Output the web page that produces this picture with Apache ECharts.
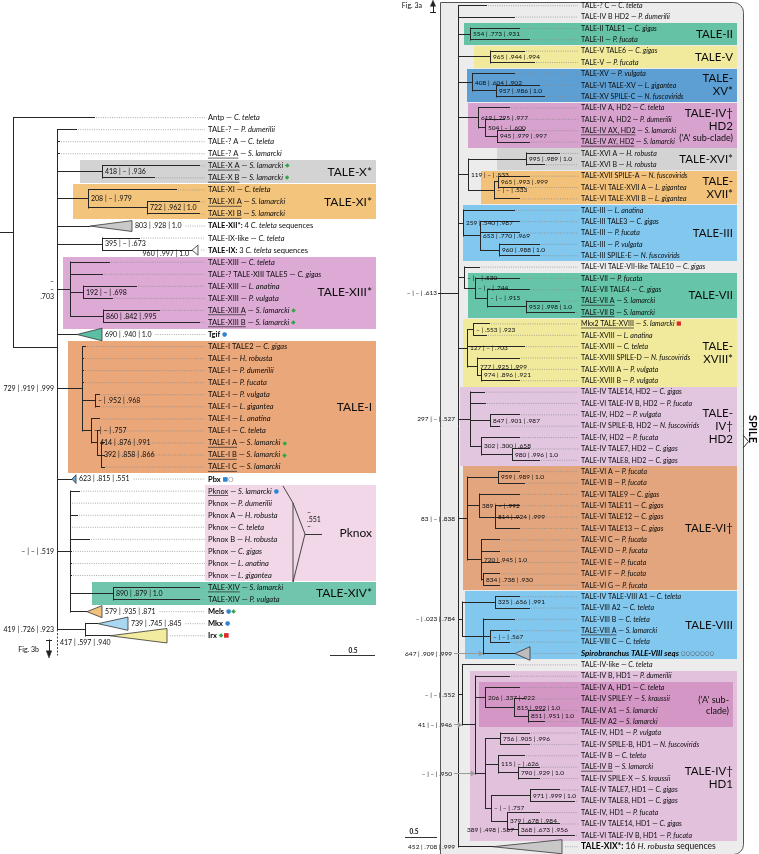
<!DOCTYPE html>
<html>
<head>
<meta charset="utf-8">
<script src="https://cdn.jsdelivr.net/npm/echarts@6/dist/echarts.min.js"></script>
<style>
html,body{margin:0;padding:0;background:#fff;}
#chart{width:759px;height:854px;}
</style>
</head>
<body>
<div id="chart"></div>
<script>
// ================= LEFT PANEL DATA =================
const leftGenes = ['Antp','TALE-?','TALE-? A','TALE-? A','TALE-X A','TALE-X B','TALE-XI','TALE-XI A','TALE-XI B',
  '{b|TALE-XII*:} 4 {i|C. teleta} sequences','TALE-IX-like','{b|TALE-IX:} 3 {i|C. teleta} sequences',
  'TALE-XIII','TALE-? TALE-XIII TALE5','TALE-XIII','TALE-XIII','TALE-XIII A','TALE-XIII B','{b|Tgif}',
  'TALE-I TALE2','TALE-I','TALE-I','TALE-I','TALE-I','TALE-I','TALE-I','TALE-I','TALE-I A','TALE-I B','TALE-I C','{b|Pbx}',
  'Pknox','Pknox','Pknox A','Pknox','Pknox B','Pknox','Pknox','Pknox','TALE-XIV','TALE-XIV','{b|Mels}','{b|Mkx}','{b|Irx}'];
const leftSpecies = ['C. teleta','P. dumerilii','C. teleta','S. lamarcki','S. lamarcki','S. lamarcki','C. teleta','S. lamarcki','S. lamarcki',
  '','C. teleta','','C. teleta','C. gigas','L. anatina','P. vulgata','S. lamarcki','S. lamarcki','',
  'C. gigas','H. robusta','P. dumerilii','P. fucata','P. vulgata','L. gigantea','L. anatina','C. teleta','S. lamarcki','S. lamarcki','S. lamarcki','',
  'S. lamarcki','P. dumerilii','H. robusta','C. teleta','H. robusta','C. gigas','L. anatina','L. gigantea','S. lamarcki','P. vulgata','','',''];
const leftMarks = [[5,'g'],[6,'g'],[17,'g'],[18,'g'],[19,'b'],[28,'g'],[29,'g'],[31,'so'],[32,'b'],[42,'bg'],[43,'b'],[44,'gr']];
const leftUnderlined = [4,5,6,8,9,17,18,28,29,30,32,40];
// depth where the solid branch of each leaf ends (null = collapsed triangle)
const leftTips = [95,77,60,60,200,155,177,200,200,null,140,null,110,103,137,113,160,200,null,
  86,84,84,84,100,100,100,100,105,105,105,null,80,71,78,71,90,72,72,72,200,200,null,null,null];
// [id, depth, children (leaf rows or node ids), support, label mode, fixed row]
const leftNodes = [
  ['root', 13, [1,'B']],
  ['B', 57, [2,3,4,'X','XI',10,'IX','XIII',19,'I',31,'PK','MI'], '', 'node', 20.04],
  ['X', 102, [5,6], '418 | – | .936'],
  ['XI', 88, [7,'XIab'], '208 | – | .979'],
  ['XIab', 147, [8,9], '722 | .962 | 1.0'],
  ['IX', 102, [11,12], '395 | – | .673'],
  ['XIII', 70, [13,14,'XIIIb','XIIIc'], '–\n–\n.703', 'left'],
  ['XIIIb', 83, [15,16], '192 | – | .698'],
  ['XIIIc', 103, [17,18], '860 | .842 | .995'],
  ['I', 82, [20,21,22,23,'Ia','Ib'], '729 | .919 | .999', 'left'],
  ['Ia', 95, [24,25], '– | .952 | .968'],
  ['Ib', 91, [26,'Ic'], '– | – | .757'],
  ['Ic', 97, [27,'Id'], '414 | .876 | .991'],
  ['Id', 101, [28,29,30], '392 | .858 | .866'],
  ['PK', 70, [32,33,34,35,36,37,38,39,'XIV',42], '– | – | .519', 'left'],
  ['XIV', 113, [40,41], '890 | .879 | 1.0'],
  ['MI', 85, [43,44], '419 | .726 | .923', 'left']
];
// [row, tip depth, base depth, half height (rows), fill, support, label mode]
const leftTriangles = [
  [10, 90, 132, 0.45, '#c9c9c9', '803 | .928 | 1.0'],
  [12, 192, 198, 0.42, '#f4f4f4', '960 | .997 | 1.0', 'before'],
  [19, 77, 102, 0.52, '#5cbfa3', '690 | .940 | 1.0'],
  [31, 72, 76, 0.36, '#5aaee0', '623 | .815 | .551'],
  [42, 87, 102, 0.5, '#f3c27a', '579 | .935 | .871'],
  [43, 98, 128, 0.55, '#a9d7f2', '739 | .745 | .845'],
  [44, 110, 167, 0.6, '#f2ec9e', '']
];
// [label, start depth, first row, last row, colour, label row, end depth]
const leftClades = [
  ['TALE-X*', 80, 5, 6, '#d3d3d3'],
  ['TALE-XI*', 73, 7, 9, '#f3c47c'],
  ['TALE-XIII*', 63, 13, 18, '#dcaad5'],
  ['TALE-I', 68, 20, 30, '#eaa77a'],
  ['Pknox', 205, 32, 39, '#f1d7e8'],
  ['TALE-XIV*', 92, 40, 41, '#6fc6ad']
];
const leftNotes = [['417 | .597 | .940', 44.6, 60, 'left']];

// ================= RIGHT PANEL DATA =================
const rightGenes = ['TALE-? C','TALE-IV B HD2','TALE-II TALE1','TALE-II','TALE-V TALE6','TALE-V','TALE-XV','TALE-VI TALE-XV','TALE-XV SPILE-C',
  'TALE-IV A, HD2','TALE-IV A, HD2','TALE-IV AX, HD2','TALE-IV AY, HD2','TALE-XVI A','TALE-XVI B','TALE-XVII SPILE-A','TALE-VI TALE-XVII A','TALE-VI TALE-XVII B',
  'TALE-III','TALE-III TALE3','TALE-III','TALE-III','TALE-III SPILE-E','TALE-VI TALE-VII-like TALE10','TALE-VII','TALE-VII TALE4','TALE-VII A','TALE-VII B',
  'Mkx2 TALE-XVIII','TALE-XVIII','TALE-XVIII','TALE-XVIII SPILE-D','TALE-XVIII A','TALE-XVIII B',
  'TALE-IV TALE14, HD2','TALE-VI TALE-IV B, HD2','TALE-IV, HD2','TALE-IV SPILE-B, HD2','TALE-IV, HD2','TALE-IV TALE7, HD2','TALE-IV TALE8, HD2',
  'TALE-VI A','TALE-VI B','TALE-VI TALE9','TALE-VI TALE11','TALE-VI TALE12','TALE-VI TALE13','TALE-VI C','TALE-VI D','TALE-VI E','TALE-VI F','TALE-VI G',
  'TALE-IV TALE-VIII A1','TALE-VIII A2','TALE-VIII B','TALE-VIII A','TALE-VIII C','{BI|Spirobranchus TALE-VIII seqs}',
  'TALE-IV-like','TALE-IV B, HD1','TALE-IV A, HD1','TALE-IV SPILE-Y','TALE-IV A1','TALE-IV A2','TALE-IV, HD1','TALE-IV SPILE-B, HD1',
  'TALE-IV B','TALE-IV B','TALE-IV SPILE-X','TALE-IV TALE7, HD1','TALE-IV TALE8, HD1','TALE-IV, HD1','TALE-IV TALE14, HD1','TALE-VI TALE-IV B, HD1',
  '{B|TALE-XIX*:}{L| 16 }{LI|H. robusta}{L| sequences}'];
const rightSpecies = ['C. teleta','P. dumerilii','C. gigas','P. fucata','C. gigas','P. fucata','P. vulgata','L. gigantea','N. fuscovirids',
  'C. teleta','P. dumerilii','S. lamarcki','S. lamarcki','H. robusta','H. robusta','N. fuscovirids','L. gigantea','L. gigantea',
  'L. anatina','C. gigas','P. fucata','P. vulgata','N. fuscovirids','C. gigas','P. fucata','C. gigas','S. lamarcki','S. lamarcki',
  'S. lamarcki','L. anatina','C. teleta','N. fuscovirids','P. vulgata','P. vulgata',
  'C. gigas','P. fucata','P. vulgata','N. fuscovirids','P. fucata','C. gigas','C. gigas',
  'P. fucata','P. fucata','C. gigas','C. gigas','C. gigas','C. gigas','P. fucata','P. fucata','P. fucata','P. fucata','P. fucata',
  'C. teleta','C. teleta','C. teleta','S. lamarcki','C. teleta','',
  'C. teleta','P. dumerilii','C. teleta','S. kraussii','S. lamarcki','S. lamarcki','P. vulgata','N. fuscovirids',
  'C. teleta','S. lamarcki','S. kraussii','C. gigas','C. gigas','P. fucata','C. gigas','P. fucata',''];
const rightMarks = [[29,'r'],[58,'ooooooo']];
const rightUnderlined = [12,13,27,28,29,56,68];
const rightTips = [487,515,520,530,525,535,515,540,545,510,505,525,530,560,545,530,525,520,515,520,520,540,540,480,520,530,560,575,
  490,487,525,520,520,520,485,486,520,500,520,530,540,520,525,520,520,520,520,500,500,500,500,500,520,530,515,510,510,null,
  515,510,520,525,545,545,530,530,525,540,540,560,575,540,560,575,null];
const rightNodes = [
  ['S0', 458, [1,2,'II','V','XV','P','S','III','X','CC','FF','JJ','PP','H1',75]],
  ['II', 470, [3,4], '554 | .773 | .931'],
  ['V', 490, [5,6], '965 | .944 | .994'],
  ['XV', 472, [7,'XVb'], '408 | .604 | .902'],
  ['XVb', 496, [8,9], '957 | .986 | 1.0'],
  ['P', 478, [10,'Q'], '619 | .795 | .977'],
  ['Q', 485, [11,'R'], '504 | – | .600'],
  ['R', 497, [12,13], '945 | .979 | .997'],
  ['S', 468, ['XVI','T'], '119 | – | .533'],
  ['XVI', 526, [14,15], '995 | .989 | 1.0'],
  ['T', 494, ['U',18], '– | – | .533'],
  ['U', 498, [16,17], '965 | .993 | .999'],
  ['III', 463, [19,'V3'], '259 | .540 | .987'],
  ['V3', 480, [20,21,'W'], '653 | .770 | .969'],
  ['W', 499, [22,23], '960 | .988 | 1.0'],
  ['X', 464, [24,'Y'], '– | – | .530'],
  ['Y', 475, [25,'Z'], '– | – | .744'],
  ['Z', 487, [26,'AA'], '– | – | .915'],
  ['AA', 526, [27,28], '952 | .998 | 1.0'],
  ['CC', 467, ['BB',31,'DD'], '127 | – | .703'],
  ['BB', 473, [29,30], '– | .553 | .923'],
  ['DD', 477, [32,'EE'], '777 | .925 | .999'],
  ['EE', 481, [33,34], '974 | .896 | .921'],
  ['FF', 470, [35,36,'GG','HH'], '297 | – | .527', 'left'],
  ['GG', 490, [37,38], '847 | .901 | .987'],
  ['HH', 481, [39,'I2'], '302 | .300 | .658'],
  ['I2', 512, [40,41], '980 | .996 | 1.0'],
  ['JJ', 467, ['KK','LL','NN'], '83 | – | .838', 'left'],
  ['KK', 498, [42,43], '959 | .989 | 1.0'],
  ['LL', 479, [44,'MM'], '389 | – | .992'],
  ['MM', 495, [45,46,47], '814 | .924 | .999'],
  ['NN', 481, [48,49,50,'OO'], '720 | .945 | 1.0'],
  ['OO', 483, [51,52], '834 | .738 | .930'],
  ['PP', 462, ['QQ','RR'], '– | .023 | .784', 'left'],
  ['QQ', 495, [53,54], '325 | .656 | .991'],
  ['RR', 483, [55,'SS',58]],
  ['SS', 490, [56,57], '– | – | .567'],
  ['H1', 462, [59,'H1b'], '– | – | .552', 'left'],
  ['H1b', 475, [60,'TT','XX'], '41 | – | .946', 'leftArrow'],
  ['TT', 485, [61,'UU'], '206 | .337 | .922'],
  ['UU', 514, [62,'VV'], '815 | .992 | 1.0'],
  ['VV', 528, [63,64], '851 | .951 | 1.0'],
  ['XX', 485, ['YY','ZZ','AC'], '– | – | .950', 'leftArrow'],
  ['YY', 500, [65,66], '756 | .905 | .996'],
  ['ZZ', 498, [67,'AB'], '115 | – | .626'],
  ['AB', 518, [68,69], '790 | .929 | 1.0'],
  ['AC', 491, ['AD','AE'], '– | – | .757'],
  ['AD', 530, [70,71], '971 | .999 | 1.0'],
  ['AE', 507, [72,'AF'], '379 | .678 | .984'],
  ['AF', 518, [73,74], '368 | .673 | .956']
];
const rightTriangles = [
  [58, 515, 530, 0.6, '#bdbdbd', '647 | .909 | .999', 'leftArrow'],
  [75, 493, 562, 0.62, '#c8c8c8', '452 | .708 | .999', 'left']
];
const rightClades = [
  ['TALE-II', 464, 3, 4, '#66c2a4'],
  ['TALE-V', 474, 5, 6, '#f1ea9c'],
  ['TALE-\nXV*', 467, 7, 9, '#5d9fd3'],
  ["TALE-IV†\nHD2\n{s|('A' sub-clade)}", 468, 10, 13, '#d8a2cf'],
  ['TALE-XVI*', 497, 14, 15, '#d3d3d3'],
  ['TALE-\nXVII*', 481, 16, 18, '#f2c27b'],
  ['TALE-III', 463, 19, 23, '#82c7ee'],
  ['TALE-VII', 468, 25, 28, '#66c5a8'],
  ['TALE-\nXVIII*', 463, 29, 34, '#f1ea9c'],
  ['TALE-\nIV†\nHD2', 460, 35, 41, '#e2c6df'],
  ['TALE-VI†', 463, 42, 52, '#e3a57d'],
  ['TALE-VIII', 465, 53, 58, '#82c7ee'],
  ['TALE-IV†\nHD1', 470, 60, 74, '#e2c1dd', 68.9],
  ["{s|('A' sub-}\n{s|clade)}", 479, 61, 64, '#d497c5', 62.6, 733]
];
const rightNotes = [['– | – | .613', 26.3, 437, 'right', 458], ['389 | .498 | .567', 73.5, 467, 'left']];

// ================= RENDERING =================
const FAM = 'Lato, "Open Sans", "DejaVu Sans", sans-serif';
const INK = '#0d0d0d';
const MARK_GLYPH = { g: '◆', b: '●', r: '■', s: '■', o: '○' };
const mctx = document.createElement('canvas').getContext('2d');
function measure(s, fs) { mctx.font = fs + 'px Lato'; return mctx.measureText(s).width; }
const richCache = {};
function RICH(fs) {
  if (richCache[fs]) return richCache[fs];
  const b = { fontSize: fs, fontFamily: FAM };
  const mk = (col) => ({ fontSize: Math.max(5, fs - 1.5), fontFamily: '"DejaVu Sans", sans-serif', fill: col });
  return richCache[fs] = {
    i: Object.assign({}, b, { fontStyle: 'italic', fill: INK }),
    b: Object.assign({}, b, { fontWeight: 'bold', fill: '#000' }),
    BI: { fontSize: 8, fontFamily: FAM, fontWeight: 'bold', fontStyle: 'italic', fill: '#000' },
    B: { fontSize: 8.5, fontFamily: FAM, fontWeight: 'bold', fill: '#000' },
    L: { fontSize: 8.5, fontFamily: FAM, fill: INK },
    LI: { fontSize: 8.5, fontFamily: FAM, fontStyle: 'italic', fill: INK },
    s: { fontSize: 9, fontFamily: FAM, fill: INK, lineHeight: 11 },
    mg: mk('#33a64a'), mb: mk('#2f86cf'), mr: mk('#e02828'), ms: mk('#2f86cf'), mo: mk('#444')
  };
}

function buildPanel(P) {
  const L = { bg: [], box: [], line: [], text: [] };
  const N = {}, T = {}, parentX = {};
  P.nodes.forEach(n => { N[n[0]] = { id: n[0], x: n[1], ch: n[2], sup: n[3] || '', mode: n[4] || 'node', yo: n[5] }; });
  P.triangles.forEach(t => { T[t[0]] = { row: t[0], tip: t[1], base: t[2], h: t[3], fill: t[4], sup: t[5] || '', mode: t[6] || 'after' }; });
  Object.values(N).forEach(n => n.ch.forEach(c => { parentX[c] = n.x; }));
  const yOf = c => {
    if (typeof c === 'number') return c;
    const n = N[c];
    if (n.y === undefined) {
      const ys = n.ch.map(yOf);
      n.y0 = Math.min.apply(null, ys); n.y1 = Math.max.apply(null, ys);
      n.y = (n.yo != null) ? n.yo : (n.y0 + n.y1) / 2;
    }
    return n.y;
  };
  Object.keys(N).forEach(k => yOf(k));
  const marks = {}; P.marks.forEach(m => { marks[m[0]] = m[1]; });
  const under = new Set(P.underlined);
  const solid = (x1, y1, x2, y2, extra) => L.line.push(Object.assign({ t: 'line', x1, y1, x2, y2 }, extra || {}));
  const dotted = (x1, x2, y) => { if (x2 > x1 + 1) solid(x1, y, x2, y, { color: '#8a8a8a', w: 0.7, dash: [1, 1.3] }); };
  const sup = (text, x, y, align) => L.text.push({ t: 'text', x, y, text, fs: P.supFs, align, lh: P.supFs + 0.5 });
  const arrow = (x1, x2, y) => {
    solid(x1, y, x2 - 3, y, { color: '#9a9a9a', w: 1 });
    L.line.push({ t: 'poly', pts: [[x2, y], [x2 - 4, y - 0.22], [x2 - 4, y + 0.22]], fill: '#9a9a9a', stroke: '#9a9a9a', w: 0.5 });
  };
  const leafLabel = r => {
    let s = P.genes[r - 1];
    if (P.species[r - 1]) s += ' — {i|' + P.species[r - 1] + '}';
    if (marks[r]) s += ' ' + marks[r].split('').map(k => '{m' + k + '|' + MARK_GLYPH[k] + '}').join('');
    L.text.push({ t: 'text', x: P.labelX, y: r, text: s, fs: P.fs, align: 'left' });
    if (under.has(r)) {
      const w = measure(P.genes[r - 1], P.fs);
      solid(P.labelX, r + 0.36, P.labelX + w, r + 0.36, { w: 0.7, color: '#222' });
    }
  };
  const drawTri = (t, px) => {
    solid(px, t.row, t.tip, t.row);
    L.line.push({ t: 'poly', pts: [[t.tip, t.row], [t.base, t.row - t.h], [t.base, t.row + t.h]], fill: t.fill, stroke: '#333', w: 0.8 });
    let lead = t.base + 3;
    if (t.sup) {
      if (t.mode === 'after') { sup(t.sup, t.base + 3, t.row, 'left'); lead = t.base + 7 + measure(t.sup, P.supFs); }
      else if (t.mode === 'before') sup(t.sup, t.tip - 3, t.row + 0.32, 'right');
      else if (t.mode === 'left') sup(t.sup, px - 3, t.row, 'right');
      else if (t.mode === 'leftArrow') { sup(t.sup, P.noteX, t.row, 'right'); arrow(P.noteX + 2, px, t.row); }
    }
    dotted(lead, P.labelX - 3, t.row);
    leafLabel(t.row);
  };
  P.clades.forEach(c => {
    const label = c[0], x1 = c[1], r1 = c[2], r2 = c[3], fill = c[4], lrow = c[5], xr = c[6] || P.boxRight;
    L.box.push({ t: 'rect', x1, y1: r1 - 0.47, x2: xr, y2: r2 + 0.47, fill });
    L.text.push({ t: 'text', x: xr - 4, y: lrow != null ? lrow : (r1 + r2) / 2, text: label, fs: P.cladeFs, align: 'right', lh: P.cladeLh });
  });
  Object.values(N).forEach(n => {
    solid(n.x, n.y0, n.x, n.y1);
    if (parentX[n.id] === undefined && P.stemFrom != null) solid(P.stemFrom, n.y, n.x, n.y);
    n.ch.forEach(c => {
      if (typeof c === 'string') solid(n.x, N[c].y, N[c].x, N[c].y);
      else if (T[c]) drawTri(T[c], n.x);
      else {
        const tip = Math.max(n.x, P.tips[c - 1]);
        solid(n.x, c, tip, c);
        dotted(tip + 1, P.labelX - 3, c);
        leafLabel(c);
      }
    });
    if (n.sup) {
      const px = parentX[n.id];
      if (n.mode === 'node') sup(n.sup, n.x + 3, n.y, 'left');
      else if (n.mode === 'left') sup(n.sup, px - 3, n.y, 'right');
      else if (n.mode === 'leftArrow') { sup(n.sup, P.noteX, n.y, 'right'); arrow(P.noteX + 2, px, n.y); }
    }
  });
  P.notes.forEach(nt => {
    sup(nt[0], nt[2], nt[1], nt[3]);
    if (nt[4]) solid(nt[2] + 1, nt[1], nt[4], nt[1]);
  });
  L.N = N;
  return L;
}

const LEFT = { genes: leftGenes, species: leftSpecies, marks: leftMarks, underlined: leftUnderlined, tips: leftTips,
  nodes: leftNodes, triangles: leftTriangles, clades: leftClades, notes: leftNotes,
  labelX: 208, boxRight: 376, fs: 7.5, supFs: 7, cladeFs: 12, cladeLh: 13, stemFrom: 0, noteX: 50 };
const RIGHT = { genes: rightGenes, species: rightSpecies, marks: rightMarks, underlined: rightUnderlined, tips: rightTips,
  nodes: rightNodes, triangles: rightTriangles, clades: rightClades, notes: rightNotes,
  labelX: 581, boxRight: 737, fs: 7, supFs: 6.5, cladeFs: 11.5, cladeLh: 13, stemFrom: null, noteX: 452 };

const Lp = buildPanel(LEFT);
const Rp = buildPanel(RIGHT);

// ---- left panel extras ----
(function () {
  const B = Lp.N['B'];
  Lp.line.push({ t: 'line', x1: B.x, y1: B.y1, x2: B.x, y2: 45.6, color: '#444', w: 1, dash: [2, 1.5] });
  Lp.line.push({ t: 'polyline', pts: [[283, 31.57], [293, 32.98], [293, 39.54]], stroke: '#333', w: 0.9 });
  Lp.line.push({ t: 'polyline', pts: [[293, 32.98], [305, 35.56], [293, 39.54]], stroke: '#333', w: 0.9 });
  Lp.line.push({ t: 'line', x1: 305, y1: 35.56, x2: 322, y2: 35.56, color: '#333', w: 1 });
  Lp.text.push({ t: 'text', x: 307, y: 34.35, text: '–\n.551\n–', fs: 7, align: 'left', lh: 7 });
  Lp.line.push({ t: 'line', x1: 330, y1: 45.62, x2: 375, y2: 45.62, color: '#333', w: 1 });
  Lp.text.push({ t: 'text', x: 353, y: 45.25, text: '0.5', fs: 6.5, fw: 'bold', align: 'center' });
  Lp.text.push({ t: 'text', x: 39, y: 45.18, text: 'Fig. 3b', fs: 7, align: 'right' });
  Lp.line.push({ t: 'line', x1: 46, y1: 44.36, x2: 52, y2: 44.36, color: '#222', w: 1 });
  Lp.line.push({ t: 'line', x1: 49, y1: 44.36, x2: 49, y2: 45.4, color: '#222', w: 1 });
  Lp.line.push({ t: 'poly', pts: [[46.3, 45.25], [51.7, 45.25], [49, 45.85]], fill: '#222', stroke: '#222', w: 0.5 });
})();

// ---- right panel extras ----
(function () {
  Rp.bg.push({ t: 'rect', x1: 440, y1: 0.67, x2: 743, y2: 75.6, fill: '#ececec', stroke: '#555', w: 1, r: [0, 10, 10, 0] });
  Rp.line.push({ t: 'polyline', pts: [[743, 38.77], [748.5, 39.35], [743, 39.92]], stroke: '#333', w: 1 });
  Rp.text.push({ t: 'text', x: 753, y: 38.25, text: 'SPILE', fs: 11, fw: 'bold', align: 'center', rot: -Math.PI / 2 });
  Rp.text.push({ t: 'text', x: 422, y: 1.0, text: 'Fig. 3a', fs: 7, align: 'right' });
  Rp.line.push({ t: 'line', x1: 430, y1: 1.6, x2: 436, y2: 1.6, color: '#222', w: 1 });
  Rp.line.push({ t: 'line', x1: 433, y1: 1.6, x2: 433, y2: 0.9, color: '#222', w: 1 });
  Rp.line.push({ t: 'poly', pts: [[430.4, 1.05], [435.6, 1.05], [433, 0.52]], fill: '#222', stroke: '#222', w: 0.5 });
  Rp.line.push({ t: 'line', x1: 405, y1: 74.15, x2: 437, y2: 74.15, color: '#333', w: 1 });
  Rp.text.push({ t: 'text', x: 414, y: 73.7, text: '0.5', fs: 6.5, fw: 'bold', align: 'center' });
})();

const snap = v => Math.round(v - 0.5) + 0.5;
function renderPrim(p, api) {
  const c = (x, y) => api.coord([x, y]);
  if (p.t === 'line') {
    const a = c(p.x1, p.y1), b = c(p.x2, p.y2);
    const w = p.w || 1;
    let x1 = a[0], y1 = a[1], x2 = b[0], y2 = b[1];
    if (w >= 1) {
      if (Math.abs(y1 - y2) < 0.01) { y1 = y2 = snap(y1); x1 = Math.round(x1); x2 = Math.round(x2); }
      else if (Math.abs(x1 - x2) < 0.01) { x1 = x2 = snap(x1); y1 = Math.round(y1) - 0.5; y2 = Math.round(y2) + 0.5; }
    }
    const style = { stroke: p.color || '#262626', lineWidth: w };
    if (p.dash) style.lineDash = p.dash;
    return { type: 'line', shape: { x1, y1, x2, y2 }, style };
  }
  if (p.t === 'poly' || p.t === 'polyline') {
    return { type: p.t === 'poly' ? 'polygon' : 'polyline', shape: { points: p.pts.map(q => c(q[0], q[1])) },
      style: { fill: p.t === 'poly' ? p.fill : null, stroke: p.stroke || '#333', lineWidth: p.w || 0.8 } };
  }
  if (p.t === 'rect') {
    const a = c(p.x1, p.y1), b = c(p.x2, p.y2);
    const style = { fill: p.fill };
    if (p.stroke) { style.stroke = p.stroke; style.lineWidth = p.w || 1; }
    const x = Math.round(Math.min(a[0], b[0])), y = Math.round(Math.min(a[1], b[1]));
    const shape = { x: p.stroke ? x + 0.5 : x, y: p.stroke ? y + 0.5 : y,
      width: Math.round(Math.abs(b[0] - a[0])), height: Math.round(Math.abs(b[1] - a[1])), r: p.r || 0 };
    return { type: 'rect', shape, style };
  }
  if (p.t === 'text') {
    const a = c(p.x, p.y);
    const style = { text: p.text, fill: p.color || INK, fontSize: p.fs, fontFamily: FAM,
      fontWeight: p.fw || 'normal', fontStyle: 'normal', align: p.align || 'left', verticalAlign: 'middle', rich: RICH(p.fs) };
    if (p.lh) style.lineHeight = p.lh;
    return { type: 'text', x: a[0], y: a[1], rotation: p.rot || 0, style };
  }
  return null;
}

function seriesFor(list, idx, z, xv, yv) {
  return { type: 'custom', coordinateSystem: 'cartesian2d', xAxisIndex: idx, yAxisIndex: idx, z, silent: true,
    animation: false, clip: false, encode: { x: 0, y: 1 },
    data: list.map(() => [xv, yv]),
    renderItem: (params, api) => renderPrim(list[params.dataIndex], api) };
}

const chart = echarts.init(document.getElementById('chart'), null, { renderer: 'canvas' });
chart.setOption({
  backgroundColor: '#ffffff',
  animation: false,
  grid: [
    { left: 0, top: 0, width: 380, height: 854 },
    { left: 380, top: 0, width: 379, height: 854 }
  ],
  xAxis: [
    { type: 'value', gridIndex: 0, min: 0, max: 380, show: false },
    { type: 'value', gridIndex: 1, min: 380, max: 759, show: false }
  ],
  yAxis: [
    { type: 'value', gridIndex: 0, min: -8.7593, max: 62.112, inverse: true, show: false },
    { type: 'value', gridIndex: 1, min: 0.49846, max: 75.642, inverse: true, show: false }
  ],
  series: [
    seriesFor(Lp.box, 0, 2, 10, 1),
    seriesFor(Lp.line, 0, 3, 10, 1),
    seriesFor(Lp.text, 0, 4, 10, 1),
    seriesFor(Rp.bg, 1, 1, 400, 1),
    seriesFor(Rp.box, 1, 2, 400, 1),
    seriesFor(Rp.line, 1, 3, 400, 1),
    seriesFor(Rp.text, 1, 4, 400, 1)
  ]
});
</script>
</body>
</html>
